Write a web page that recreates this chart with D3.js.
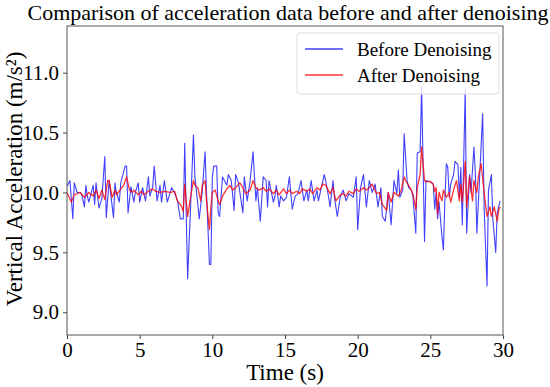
<!DOCTYPE html>
<html>
<head>
<meta charset="utf-8">
<script src="https://cdn.jsdelivr.net/npm/d3@7"></script>
<style>
body { margin: 0; background: #fff; }
svg { font-family: "Liberation Serif", "Times New Roman", serif; }
</style>
</head>
<body>
<svg id="chart" width="550" height="387"></svg>
<script>
// readings: time (s) and acceleration (m/s^2)
var beforeTime = [0.0,0.2,0.4,0.5,0.7,0.9,1.0,1.2,1.3,1.4,1.5,1.8,1.9,2.0,2.2,2.4,2.6,2.7,2.9,3.2,3.3,3.4,3.6,3.7,4.0,4.1,4.2,4.4,4.6,4.7,4.9,5.0,5.2,5.4,5.6,5.7,5.9,6.0,6.2,6.4,6.5,6.7,6.9,7.2,7.4,7.6,7.8,8.0,8.1,8.3,8.5,8.7,8.8,9.0,9.1,9.3,9.5,9.6,9.8,9.9,10.0,10.1,10.3,10.4,10.5,10.7,11.0,11.1,11.3,11.5,11.6,11.8,12.1,12.2,12.4,12.6,12.8,13.0,13.1,13.3,13.5,13.7,13.8,13.9,14.2,14.3,14.4,14.6,14.7,14.9,15.1,15.3,15.5,15.7,15.9,16.1,16.3,16.5,16.6,16.8,17.0,17.2,17.3,17.5,17.7,17.8,18.0,18.1,18.3,18.4,18.6,18.8,19.0,19.2,19.4,19.7,19.9,20.0,20.2,20.4,20.6,20.8,21.0,21.2,21.4,21.6,21.7,21.9,22.1,22.3,22.5,22.7,22.8,22.9,23.1,23.2,23.4,23.5,23.7,23.8,24.0,24.1,24.3,24.4,24.6,24.7,25.0,25.2,25.3,25.4,25.5,25.6,25.8,25.9,26.0,26.1,26.2,26.3,26.4,26.6,26.7,26.9,27.0,27.1,27.2,27.4,27.5,27.7,27.8,28.0,28.1,28.2,28.4,28.6,28.7,28.9,29.0,29.2,29.3,29.5,29.6,29.8];
var beforeValue = [10.05,10.1,9.78,10.08,10.0,10.0,9.99,9.88,10.06,9.97,9.92,10.06,9.9,10.08,9.87,9.95,10.3,9.79,10.1,9.79,10.08,10.0,9.92,10.08,10.22,10.22,9.83,10.05,9.92,10.0,10.08,9.92,10.04,9.93,10.13,9.97,10.05,10.22,9.93,10.06,9.92,10.1,9.92,10.04,10.0,9.93,9.78,9.78,10.41,9.28,9.87,10.48,10.13,9.9,9.78,10.0,10.34,10.0,9.4,9.4,10.13,10.22,10.22,9.83,9.8,10.13,10.06,10.15,10.1,9.85,10.15,10.08,9.83,10.13,9.93,10.1,10.34,9.93,10.04,9.76,10.13,10.1,9.88,10.1,9.92,9.96,10.06,9.88,9.97,9.93,9.96,10.13,9.86,9.97,9.99,10.1,9.93,10.02,9.93,10.1,9.93,10.02,9.93,10.04,10.15,10.1,9.96,9.88,10.1,9.96,9.8,9.96,10.02,9.93,9.99,9.96,10.13,9.69,10.04,10.15,9.88,10.1,10.0,10.07,9.88,10.04,9.8,9.76,10.0,9.73,10.1,9.99,10.19,9.96,10.02,10.49,10.1,10.04,10.02,9.97,9.66,10.33,10.34,10.88,9.59,10.1,10.09,10.07,9.86,10.0,9.78,9.92,9.63,9.52,9.93,10.24,10.21,9.96,10.07,10.15,10.26,10.23,9.96,10.21,9.73,10.86,9.66,10.15,10.0,10.38,10.15,9.66,10.15,10.66,9.88,9.22,10.02,10.15,9.78,9.5,9.83,9.93];

var afterTime = [0.0,0.3,0.5,0.9,1.2,1.5,1.8,2.0,2.2,2.4,2.6,2.8,2.9,3.1,3.3,3.4,3.7,3.9,4.1,4.3,4.5,4.6,4.9,5.1,5.3,5.6,5.9,6.1,6.4,6.7,7.1,7.4,7.6,7.9,8.0,8.1,8.3,8.5,8.7,8.8,9.0,9.2,9.3,9.5,9.6,9.8,9.9,10.0,10.2,10.4,10.5,10.7,11.0,11.2,11.4,11.6,11.9,12.1,12.3,12.6,12.8,13.0,13.2,13.5,13.7,13.9,14.2,14.4,14.6,14.9,15.1,15.3,15.5,15.8,16.0,16.2,16.5,16.7,16.9,17.2,17.4,17.6,17.8,18.1,18.3,18.5,18.8,19.0,19.2,19.4,19.7,19.9,20.1,20.4,20.6,20.8,21.0,21.3,21.5,21.7,22.0,22.1,22.3,22.5,22.8,23.0,23.2,23.3,23.6,23.8,24.0,24.1,24.3,24.4,24.6,24.7,25.0,25.2,25.3,25.4,25.5,25.6,25.8,25.9,26.1,26.3,26.4,26.6,26.8,27.0,27.1,27.2,27.4,27.5,27.7,27.9,28.0,28.2,28.3,28.5,28.7,28.9,29.1,29.2,29.4,29.6,29.7,29.8];
var afterValue = [10.0,9.92,9.98,10.0,9.96,10.0,9.97,10.02,9.95,10.02,9.94,10.1,10.1,9.96,10.02,9.98,10.03,10.06,10.13,10.02,10.0,10.02,9.98,10.01,9.98,10.01,10.03,10.01,10.0,10.01,10.0,10.01,9.93,9.88,9.84,10.07,9.8,9.96,10.1,10.06,10.04,9.93,10.06,10.1,9.93,9.69,9.88,10.0,10.02,9.93,9.9,9.97,10.03,10.06,10.02,10.04,10.08,10.04,9.99,10.02,10.1,10.04,10.02,10.04,10.01,10.03,9.99,10.02,9.98,10.03,9.99,10.02,9.99,10.01,9.99,10.03,10.01,10.03,9.99,10.04,10.02,10.07,10.06,9.99,10.04,9.93,9.98,9.99,9.97,10.01,9.99,10.03,10.01,10.04,10.02,10.04,10.07,9.99,10.0,9.9,9.85,10.0,9.92,10.0,9.97,10.02,10.13,10.1,10.04,9.99,9.86,10.04,10.15,10.38,10.1,10.09,10.09,10.07,10.01,10.04,9.82,10.0,9.93,10.02,9.96,10.0,9.92,10.02,10.1,9.93,10.07,9.92,10.26,9.88,10.13,9.93,10.1,10.0,10.13,10.24,10.0,9.8,9.88,9.8,9.88,9.76,9.85,9.88];

var xTicks = [0, 5, 10, 15, 20, 25, 30];
var yTicks = [9.0, 9.5, 10.0, 10.5, 11.0];

var svg = d3.select("#chart");
var plotLeft = 67, plotRight = 503, plotTop = 26, plotBottom = 335;

var x = d3.scaleLinear().domain([0, 30]).range([plotLeft, plotRight]);
var y = d3.scaleLinear().domain([8.81, 11.39]).range([plotBottom, plotTop]);

function drawSeries(times, values, color, width, opacity) {
    var pts = times.map(function(t, i) { return [t, values[i]]; });
    var line = d3.line()
        .x(function(d) { return x(d[0]); })
        .y(function(d) { return y(d[1]); });
    svg.append("path")
        .datum(pts)
        .attr("d", line)
        .attr("fill", "none")
        .attr("stroke", color)
        .attr("stroke-width", width)
        .attr("stroke-opacity", opacity)
        .attr("stroke-linejoin", "round");
}

drawSeries(beforeTime, beforeValue, "#0000ff", 1.1, 0.75);
drawSeries(afterTime, afterValue, "#ff0000", 1.3, 0.8);

// axes
var xAxis = svg.append("g")
    .attr("transform", "translate(0," + plotBottom + ")")
    .call(d3.axisBottom(x).tickValues(xTicks).tickSize(4).tickPadding(3).tickFormat(d3.format("d")));
var yAxis = svg.append("g")
    .attr("transform", "translate(" + plotLeft + ",0)")
    .call(d3.axisLeft(y).tickValues(yTicks).tickSize(4).tickPadding(4).tickFormat(d3.format(".1f")));

[xAxis, yAxis].forEach(function(g) {
    g.select(".domain").remove();
    g.selectAll(".tick line").attr("stroke", "#444");
    g.selectAll(".tick text")
        .attr("fill", "#000")
        .style("font-family", "Liberation Serif")
        .style("font-size", "21px");
});

svg.append("rect")
    .attr("x", plotLeft).attr("y", plotTop)
    .attr("width", plotRight - plotLeft).attr("height", plotBottom - plotTop)
    .attr("fill", "none")
    .attr("stroke", "#555")
    .attr("stroke-width", 1);

// text
svg.append("text")
    .attr("x", 288).attr("y", 20)
    .attr("text-anchor", "middle")
    .style("font-size", "22px")
    .text("Comparison of acceleration data before and after denoising");

svg.append("text")
    .attr("x", (plotLeft + plotRight) / 2).attr("y", 380)
    .attr("text-anchor", "middle")
    .style("font-size", "23px")
    .text("Time (s)");

svg.append("text")
    .attr("transform", "translate(22,179) rotate(-90)")
    .attr("text-anchor", "middle")
    .style("font-size", "23px")
    .text("Vertical Acceleration (m/s²)");

// legend
var legendItems = [
    { label: "Before Denoising", color: "#0000ff", opacity: 0.75 },
    { label: "After Denoising", color: "#ff0000", opacity: 0.8 }
];
var legend = svg.append("g").attr("transform", "translate(297,33)");
legend.append("rect")
    .attr("width", 202).attr("height", 61)
    .attr("rx", 3)
    .attr("fill", "#fff").attr("fill-opacity", 0.8)
    .attr("stroke", "#ddd");
legendItems.forEach(function(item, i) {
    var row = legend.append("g").attr("transform", "translate(0," + (16 + i * 26) + ")");
    row.append("line")
        .attr("x1", 8).attr("x2", 46)
        .attr("stroke", item.color)
        .attr("stroke-opacity", item.opacity)
        .attr("stroke-width", 1.3);
    row.append("text")
        .attr("x", 60).attr("y", 7)
        .style("font-size", "19px")
        .text(item.label);
});
</script>
</body>
</html>
